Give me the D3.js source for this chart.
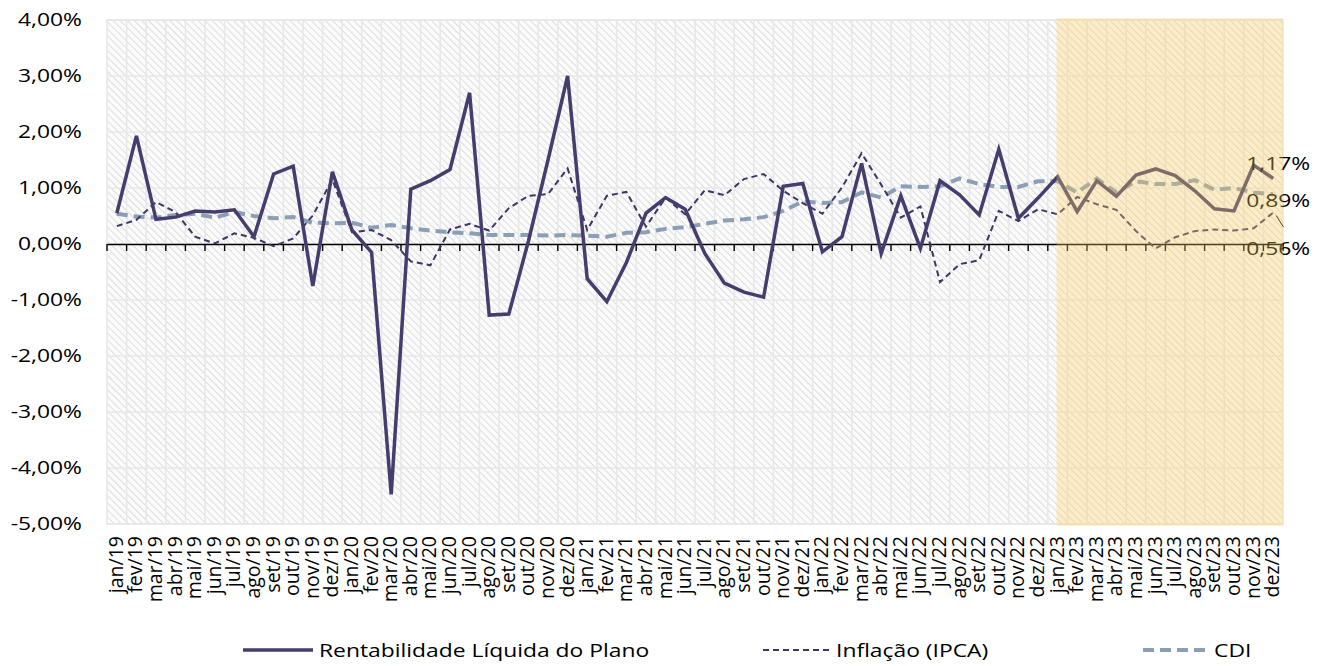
<!DOCTYPE html>
<html><head><meta charset="utf-8">
<script src="https://cdn.jsdelivr.net/npm/d3@7"></script>
<style>
html,body{margin:0;padding:0;background:#fff;}
svg{display:block;font-family:"Open Sans",sans-serif;}
</style></head>
<body>
<svg id="chart" width="1327" height="666"></svg>
<script>
const months = ["jan","fev","mar","abr","mai","jun","jul","ago","set","out","nov","dez"];
const years = ["19","20","21","22","23"];
const categories = [];
years.forEach(y => months.forEach(m => categories.push(m + "/" + y)));

const rentabilidade = [
  0.55,1.93,0.44,0.48,0.59,0.57,0.61,0.13,1.25,1.39,-0.75,1.29,
  0.25,-0.15,-4.47,0.98,1.13,1.33,2.70,-1.27,-1.25,0.05,1.50,3.00,
  -0.62,-1.03,-0.33,0.55,0.83,0.62,-0.17,-0.70,-0.86,-0.95,1.03,1.08,
  -0.14,0.13,1.44,-0.17,0.86,-0.08,1.13,0.88,0.52,1.69,0.46,0.82,
  1.20,0.58,1.13,0.85,1.23,1.34,1.22,0.95,0.63,0.59,1.41,1.17
];
const ipca = [
  0.32,0.43,0.75,0.57,0.13,0.01,0.19,0.11,-0.04,0.10,0.51,1.15,
  0.21,0.25,0.07,-0.31,-0.38,0.26,0.36,0.24,0.64,0.86,0.89,1.35,
  0.25,0.86,0.93,0.31,0.83,0.53,0.96,0.87,1.16,1.25,0.95,0.73,
  0.54,1.01,1.62,1.06,0.47,0.67,-0.68,-0.36,-0.29,0.59,0.41,0.62,
  0.53,0.84,0.71,0.61,0.23,-0.08,0.12,0.23,0.26,0.24,0.28,0.56
];
const cdi = [
  0.54,0.49,0.47,0.52,0.54,0.47,0.57,0.50,0.46,0.48,0.38,0.37,
  0.38,0.29,0.34,0.28,0.24,0.21,0.19,0.16,0.16,0.16,0.15,0.16,
  0.15,0.13,0.20,0.21,0.27,0.30,0.36,0.42,0.44,0.48,0.59,0.76,
  0.73,0.75,0.92,0.83,1.03,1.02,1.03,1.17,1.07,1.02,1.02,1.12,
  1.12,0.92,1.17,0.92,1.12,1.07,1.07,1.14,0.97,1.00,0.92,0.89
];
const yTicks = [4,3,2,1,0,-1,-2,-3,-4,-5];
const highlightStart = "jan/23";
const seriesNames = ["Rentabilidade Líquida do Plano","Inflação (IPCA)","CDI"];

const svg = d3.select("#chart");
const L = 107, R = 1283, T = 20, B = 524;
const SX = 1.27; // horizontal stretch of horizontal texts

const x = d3.scaleBand().domain(categories).range([L, R]).padding(0);
const y = d3.scaleLinear().domain([-5, 4]).range([B, T]);
const cx = c => x(c) + x.bandwidth()/2;
const fmt = v => v.toFixed(2).replace(".", ",") + "%";

// hatch pattern
const defs = svg.append("defs");
const pat = defs.append("pattern").attr("id","hatch")
  .attr("patternUnits","userSpaceOnUse").attr("width",5).attr("height",5)
  .attr("patternTransform","rotate(-45)");
pat.append("rect").attr("width",5).attr("height",5).attr("fill","#fbfbfb");
pat.append("line").attr("x1",0).attr("y1",0).attr("x2",0).attr("y2",5)
  .attr("stroke","#dadada").attr("stroke-width",1.8);

svg.append("rect").attr("x",L).attr("y",T).attr("width",R-L).attr("height",B-T)
  .attr("fill","url(#hatch)");

// gridlines
const grid = svg.append("g");
grid.selectAll("line.v").data(categories.slice(1)).join("line")
  .attr("x1", d => x(d)).attr("x2", d => x(d)).attr("y1", T).attr("y2", B)
  .attr("stroke","#e8e8e8").attr("stroke-width",1.6);
grid.selectAll("line.h").data(yTicks).join("line")
  .attr("x1", L).attr("x2", R).attr("y1", d => y(d)).attr("y2", d => y(d))
  .attr("stroke","#e8e8e8").attr("stroke-width",1.6);
grid.append("rect").attr("x",L).attr("y",T).attr("width",R-L).attr("height",B-T)
  .attr("fill","none").attr("stroke","#e8e8e8").attr("stroke-width",1.6);

// y axis labels
const yAxis = d3.axisLeft(y).tickValues(yTicks).tickSize(0).tickPadding(0)
  .tickFormat(d => fmt(d));
const yg = svg.append("g").attr("transform",`translate(${L-25},0)`).call(yAxis);
yg.select(".domain").remove();
yg.selectAll("text").attr("font-size",18).attr("fill","#000")
  .attr("font-family","'Open Sans',sans-serif")
  .attr("transform",`scale(${SX},1)`).attr("x",0);

// x axis at 0
const xAxis = d3.axisBottom(x).tickSize(0).tickFormat("");
const xg = svg.append("g").attr("transform",`translate(0,${y(0)})`).call(xAxis);
xg.select(".domain").attr("stroke","#000").attr("stroke-width",1.6);
xg.selectAll(".tick").remove();
xg.selectAll("line.tk").data(categories.concat(["end"])).join("line")
  .attr("x1", d => d==="end" ? R : x(d)).attr("x2", d => d==="end" ? R : x(d))
  .attr("y1",0).attr("y2",7).attr("stroke","#000").attr("stroke-width",1.4);

// x labels (below plot)
svg.append("g").selectAll("text").data(categories).join("text")
  .attr("transform", d => `translate(${cx(d)+6},${B+12}) rotate(-90)`)
  .attr("text-anchor","end").attr("font-size",19.5).attr("fill","#000")
  .text(d => d);

// lines
const lineGen = arr => d3.line().x((d,i) => cx(categories[i])).y(d => y(d))(arr);
svg.append("path").attr("d", lineGen(cdi)).attr("fill","none")
  .attr("stroke","#8a9fb6").attr("stroke-width",4).attr("stroke-dasharray","11,6");
svg.append("path").attr("d", lineGen(ipca)).attr("fill","none")
  .attr("stroke","#3d3668").attr("stroke-width",2).attr("stroke-dasharray","6,4");
svg.append("path").attr("d", lineGen(rentabilidade)).attr("fill","none")
  .attr("stroke","#463c6e").attr("stroke-width",3.5).attr("stroke-linejoin","miter");

// end labels
const last = categories.length - 1;
const lx = cx(categories[last]) - 27;
function stretchedText(g, tx, ty, str, size) {
  return g.append("text").attr("transform",`translate(${tx},${ty}) scale(${SX},1)`)
    .attr("font-size",size).attr("fill","#000").text(str);
}
stretchedText(svg, lx, y(rentabilidade[last]) - 8, fmt(rentabilidade[last]), 18);
stretchedText(svg, lx, y(cdi[last]) + 13, fmt(cdi[last]), 18);
svg.append("line").attr("x1", cx(categories[last])+3).attr("y1", y(ipca[last])+3)
  .attr("x2", cx(categories[last])+10).attr("y2", y(ipca[last])+14)
  .attr("stroke","#000").attr("stroke-width",1);
stretchedText(svg, lx, y(ipca[last]) + 42, fmt(ipca[last]), 18);

// highlight overlay (2023)
const hx = cx(highlightStart) - 1;
svg.append("rect").attr("x", hx).attr("y", T-2).attr("width", R - hx).attr("height", B - T + 4)
  .attr("fill","#ffcf5c").attr("opacity",0.32);

// legend
const lg = svg.append("g").attr("transform","translate(0,650)");
const items = [
  {name: seriesNames[0], x1:243, x2:313, stroke:"#463c6e", w:3.5, dash:null},
  {name: seriesNames[1], x1:763, x2:830, stroke:"#3d3668", w:2, dash:"6,4"},
  {name: seriesNames[2], x1:1143, x2:1208, stroke:"#8a9fb6", w:4, dash:"11,6"}
];
items.forEach(it => {
  lg.append("line").attr("x1",it.x1).attr("x2",it.x2).attr("y1",0).attr("y2",0)
    .attr("stroke",it.stroke).attr("stroke-width",it.w).attr("stroke-dasharray",it.dash);
  stretchedText(lg, it.x2+6, 7, it.name, 18);
});
</script>
</body></html>
